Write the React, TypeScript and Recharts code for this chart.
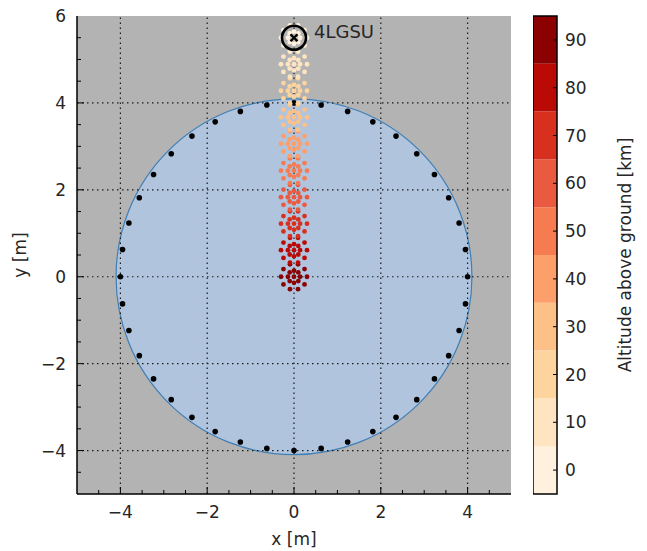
import React from "react";
import {
  ScatterChart,
  Scatter,
  XAxis,
  YAxis,
  ReferenceArea,
  ReferenceLine,
} from "recharts";

// axes
const X_DOMAIN = [-5, 5];
const Y_DOMAIN = [-5, 6];
const X_TICKS = [-5, -4.5, -4, -3.5, -3, -2.5, -2, -1.5, -1, -0.5, 0, 0.5, 1, 1.5, 2, 2.5, 3, 3.5, 4, 4.5, 5];
const Y_TICKS = [-5, -4.5, -4, -3.5, -3, -2.5, -2, -1.5, -1, -0.5, 0, 0.5, 1, 1.5, 2, 2.5, 3, 3.5, 4, 4.5, 5, 5.5, 6];
const X_LABELLED = [-4, -2, 0, 2, 4];
const Y_LABELLED = [-4, -2, 0, 2, 4, 6];
const GRID_X = [-4, -2, 0, 2, 4];
const GRID_Y = [-4, -2, 0, 2, 4];

// footprint + outer antennas (polar, degrees)
const FOOTPRINT_RADIUS = 4.1;
const RING_RADIUS = 4.0;
const RING_ANGLES = [
  0, 9, 18, 27, 36, 45, 54, 63, 72, 81, 90, 99, 108, 117, 126, 135, 144, 153, 162, 171,
  180, 189, 198, 207, 216, 225, 234, 243, 252, 261, 270, 279, 288, 297, 306, 315, 324, 333, 342, 351,
];

// stations along the track
const STATION_X = [0, 0, 0, 0, 0, 0, 0, 0, 0, 0];
const STATION_Y = [0, 0.61, 1.22, 1.83, 2.44, 3.06, 3.67, 4.28, 4.89, 5.5];
const STATION_ALT = [90, 80, 70, 60, 50, 40, 30, 20, 10, 0];
const INNER_ANGLES = [0, 45, 90, 135, 180, 225, 270, 315];
const INNER_RADIUS = 0.14;
const OUTER_ANGLES = [0, 36, 72, 108, 144, 180, 216, 252, 288, 324];
const OUTER_RADIUS = 0.3;

const MARKER = { name: "4LGSU", x: 0, y: 5.5 };

// colorbar
const CB_LEVELS = [0, 10, 20, 30, 40, 50, 60, 70, 80, 90];
const CB_COLORS = ["#fff1de", "#fee4c0", "#fdd49e", "#fdc087", "#fc9f6a", "#f67b51", "#ea5a40", "#d7301f", "#ba0a06", "#8b0000"];

// layout
const W = 530;
const H = 551;
const MARGIN = { top: 16, right: 19, bottom: 0, left: 0 };
const Y_AXIS_W = 77;
const X_AXIS_H = 57;
const PX_PER_M = (W - MARGIN.right - MARGIN.left - Y_AXIS_W) / (X_DOMAIN[1] - X_DOMAIN[0]);
const FONT = "'DejaVu Sans', sans-serif";
const TXT = "#262626";

const rad = (d: number) => (d * Math.PI) / 180;
const polar = (x0: number, y0: number, r: number, deg: number) => ({
  x: x0 + r * Math.cos(rad(deg)),
  y: y0 + r * Math.sin(rad(deg)),
});

const footprint = [{ x: 0, y: 0 }];
const ringDots = RING_ANGLES.map((a) => polar(0, 0, RING_RADIUS, a));
const stations = STATION_Y.map((sy, i) => {
  const sx = STATION_X[i];
  const pts = [
    { x: sx, y: sy },
    ...INNER_ANGLES.map((a) => polar(sx, sy, INNER_RADIUS, a)),
    ...OUTER_ANGLES.map((a) => polar(sx, sy, OUTER_RADIUS, a)),
  ];
  const color = CB_COLORS[CB_LEVELS.indexOf(STATION_ALT[i])];
  return { pts, color };
});

const fmt = (v: number) => (v < 0 ? `\u2212${-v}` : `${v}`);

const BottomTick = (p: any) => {
  const v = p.payload.value;
  if (v === X_DOMAIN[0] || v === X_DOMAIN[1]) return <g />;
  const major = X_LABELLED.includes(v);
  return (
    <g>
      <line x1={p.x} x2={p.x} y1={p.y} y2={p.y - (major ? 7 : 4)} stroke="#000" />
      {major && (
        <text x={p.x} y={p.y + 24} textAnchor="middle" fontSize={17} fill={TXT}>
          {fmt(v)}
        </text>
      )}
    </g>
  );
};

const TopTick = (p: any) => {
  const v = p.payload.value;
  if (v === X_DOMAIN[0] || v === X_DOMAIN[1]) return <g />;
  const major = X_LABELLED.includes(v);
  return <line x1={p.x} x2={p.x} y1={p.y} y2={p.y + (major ? 7 : 4)} stroke="#000" />;
};

const LeftTick = (p: any) => {
  const v = p.payload.value;
  if (v === Y_DOMAIN[0]) return <g />;
  const major = Y_LABELLED.includes(v);
  return (
    <g>
      {v !== Y_DOMAIN[1] && <line x1={p.x} x2={p.x + (major ? 7 : 4)} y1={p.y} y2={p.y} stroke="#000" />}
      {major && (
        <text x={p.x - 11} y={p.y + 6} textAnchor="end" fontSize={17} fill={TXT}>
          {fmt(v)}
        </text>
      )}
    </g>
  );
};

const RightTick = (p: any) => {
  const v = p.payload.value;
  if (v === Y_DOMAIN[0] || v === Y_DOMAIN[1]) return <g />;
  const major = Y_LABELLED.includes(v);
  return <line x1={p.x} x2={p.x - (major ? 7 : 4)} y1={p.y} y2={p.y} stroke="#000" />;
};

const CbTick = (p: any) => (
  <g>
    <line x1={p.x} x2={p.x - 4} y1={p.y} y2={p.y} stroke="#000" />
    <text x={p.x + 8} y={p.y + 6} textAnchor="start" fontSize={17} fill={TXT}>
      {p.payload.value}
    </text>
  </g>
);

const MainChart = () => (
  <ScatterChart width={W} height={H} margin={MARGIN}>
    <XAxis
      type="number"
      dataKey="x"
      domain={X_DOMAIN}
      ticks={X_TICKS}
      interval={0}
      allowDataOverflow
      height={X_AXIS_H}
      tickSize={0}
      tickMargin={0}
      tickLine={false}
      tick={<BottomTick />}
      axisLine={{ stroke: "#000", strokeWidth: 1.5 }}
      label={{ value: "x [m]", position: "insideBottom", offset: 6, fontSize: 17, fill: TXT }}
    />
    <XAxis
      xAxisId="top"
      orientation="top"
      type="number"
      dataKey="x"
      domain={X_DOMAIN}
      ticks={X_TICKS}
      interval={0}
      allowDataOverflow
      height={0}
      tickSize={0}
      tickMargin={0}
      tickLine={false}
      tick={<TopTick />}
      axisLine={{ stroke: "#000", strokeWidth: 1.5 }}
    />
    <YAxis
      type="number"
      dataKey="y"
      domain={Y_DOMAIN}
      ticks={Y_TICKS}
      interval={0}
      allowDataOverflow
      width={Y_AXIS_W}
      tickSize={0}
      tickMargin={0}
      tickLine={false}
      tick={<LeftTick />}
      axisLine={{ stroke: "#000", strokeWidth: 1.5 }}
      label={{
        value: "y [m]",
        angle: -90,
        position: "insideLeft",
        offset: 20,
        fontSize: 17,
        fill: TXT,
        style: { textAnchor: "middle" },
      }}
    />
    <YAxis
      yAxisId="right"
      orientation="right"
      type="number"
      dataKey="y"
      domain={Y_DOMAIN}
      ticks={Y_TICKS}
      interval={0}
      allowDataOverflow
      width={0}
      tickSize={0}
      tickMargin={0}
      tickLine={false}
      tick={<RightTick />}
      axisLine={{ stroke: "#000", strokeWidth: 1.5 }}
    />
    <ReferenceArea
      x1={X_DOMAIN[0]}
      x2={X_DOMAIN[1]}
      y1={Y_DOMAIN[0]}
      y2={Y_DOMAIN[1]}
      fill="#b3b3b3"
      fillOpacity={1}
      stroke="none"
      zIndex={-200}
    />
    <Scatter
      data={footprint}
      isAnimationActive={false}
      zIndex={50}
      shape={(p: any) => (
        <circle
          cx={p.cx}
          cy={p.cy}
          r={FOOTPRINT_RADIUS * PX_PER_M}
          fill="#b0c4de"
          stroke="#3f7fb5"
          strokeWidth={1.2}
        />
      )}
    />
    {GRID_X.map((v) => (
      <ReferenceLine key={`gx${v}`} x={v} stroke="#1a1a1a" strokeWidth={1.2} strokeDasharray="1.5 3.5" zIndex={550} />
    ))}
    {GRID_Y.map((v) => (
      <ReferenceLine key={`gy${v}`} y={v} stroke="#1a1a1a" strokeWidth={1.2} strokeDasharray="1.5 3.5" zIndex={550} />
    ))}
    <Scatter
      data={ringDots}
      isAnimationActive={false}
      shape={(p: any) => <circle cx={p.cx} cy={p.cy} r={2.8} fill="#000" />}
    />
    {stations.map((s, i) => (
      <Scatter
        key={i}
        data={s.pts}
        isAnimationActive={false}
        shape={(p: any) => <circle cx={p.cx} cy={p.cy} r={2.4} fill={s.color} />}
      />
    ))}
    <Scatter
      data={[MARKER]}
      isAnimationActive={false}
      shape={(p: any) => (
        <g>
          <circle cx={p.cx} cy={p.cy} r={12} fill="none" stroke="#000" strokeWidth={2.6} />
          <path
            d={`M${p.cx - 3.5},${p.cy - 3.5}L${p.cx + 3.5},${p.cy + 3.5}M${p.cx - 3.5},${p.cy + 3.5}L${p.cx + 3.5},${p.cy - 3.5}`}
            stroke="#000"
            strokeWidth={2.4}
          />
          <text x={p.cx + 20} y={p.cy + 0} fontSize={18} fill={TXT}>
            {p.payload.name}
          </text>
        </g>
      )}
    />
  </ScatterChart>
);

const CB_W = 110;
const CbChart = () => (
  <ScatterChart width={CB_W} height={H} margin={{ top: 16, right: 0, bottom: X_AXIS_H, left: 0 }}>
    <XAxis type="number" dataKey="x" domain={[0, 1]} hide allowDataOverflow />
    <YAxis
      orientation="right"
      type="number"
      dataKey="y"
      domain={[-5, 95]}
      ticks={CB_LEVELS}
      interval={0}
      allowDataOverflow
      width={CB_W - 24}
      tickSize={0}
      tickMargin={0}
      tickLine={false}
      tick={<CbTick />}
      axisLine={false}
      label={{
        value: "Altitude above ground [km]",
        angle: -90,
        position: "insideRight",
        offset: 18,
        fontSize: 17,
        fill: TXT,
        style: { textAnchor: "middle" },
      }}
    />
    {CB_LEVELS.map((lv, i) => (
      <ReferenceArea
        key={lv}
        x1={0}
        x2={1}
        y1={lv - 5}
        y2={lv + 5}
        fill={CB_COLORS[i]}
        fillOpacity={1}
        stroke="none"
      />
    ))}
    <ReferenceArea x1={0} x2={1} y1={-5} y2={95} fill="none" stroke="#000" strokeWidth={1.5} />
  </ScatterChart>
);

export default function App() {
  return (
    <div
      style={{
        position: "absolute",
        left: 0,
        top: 0,
        width: 647,
        height: 551,
        background: "#fff",
        fontFamily: FONT,
      }}
    >
      <div style={{ position: "absolute", left: 0, top: 0 }}>
        <MainChart />
      </div>
      <div style={{ position: "absolute", left: 533, top: 0 }}>
        <CbChart />
      </div>
    </div>
  );
}
